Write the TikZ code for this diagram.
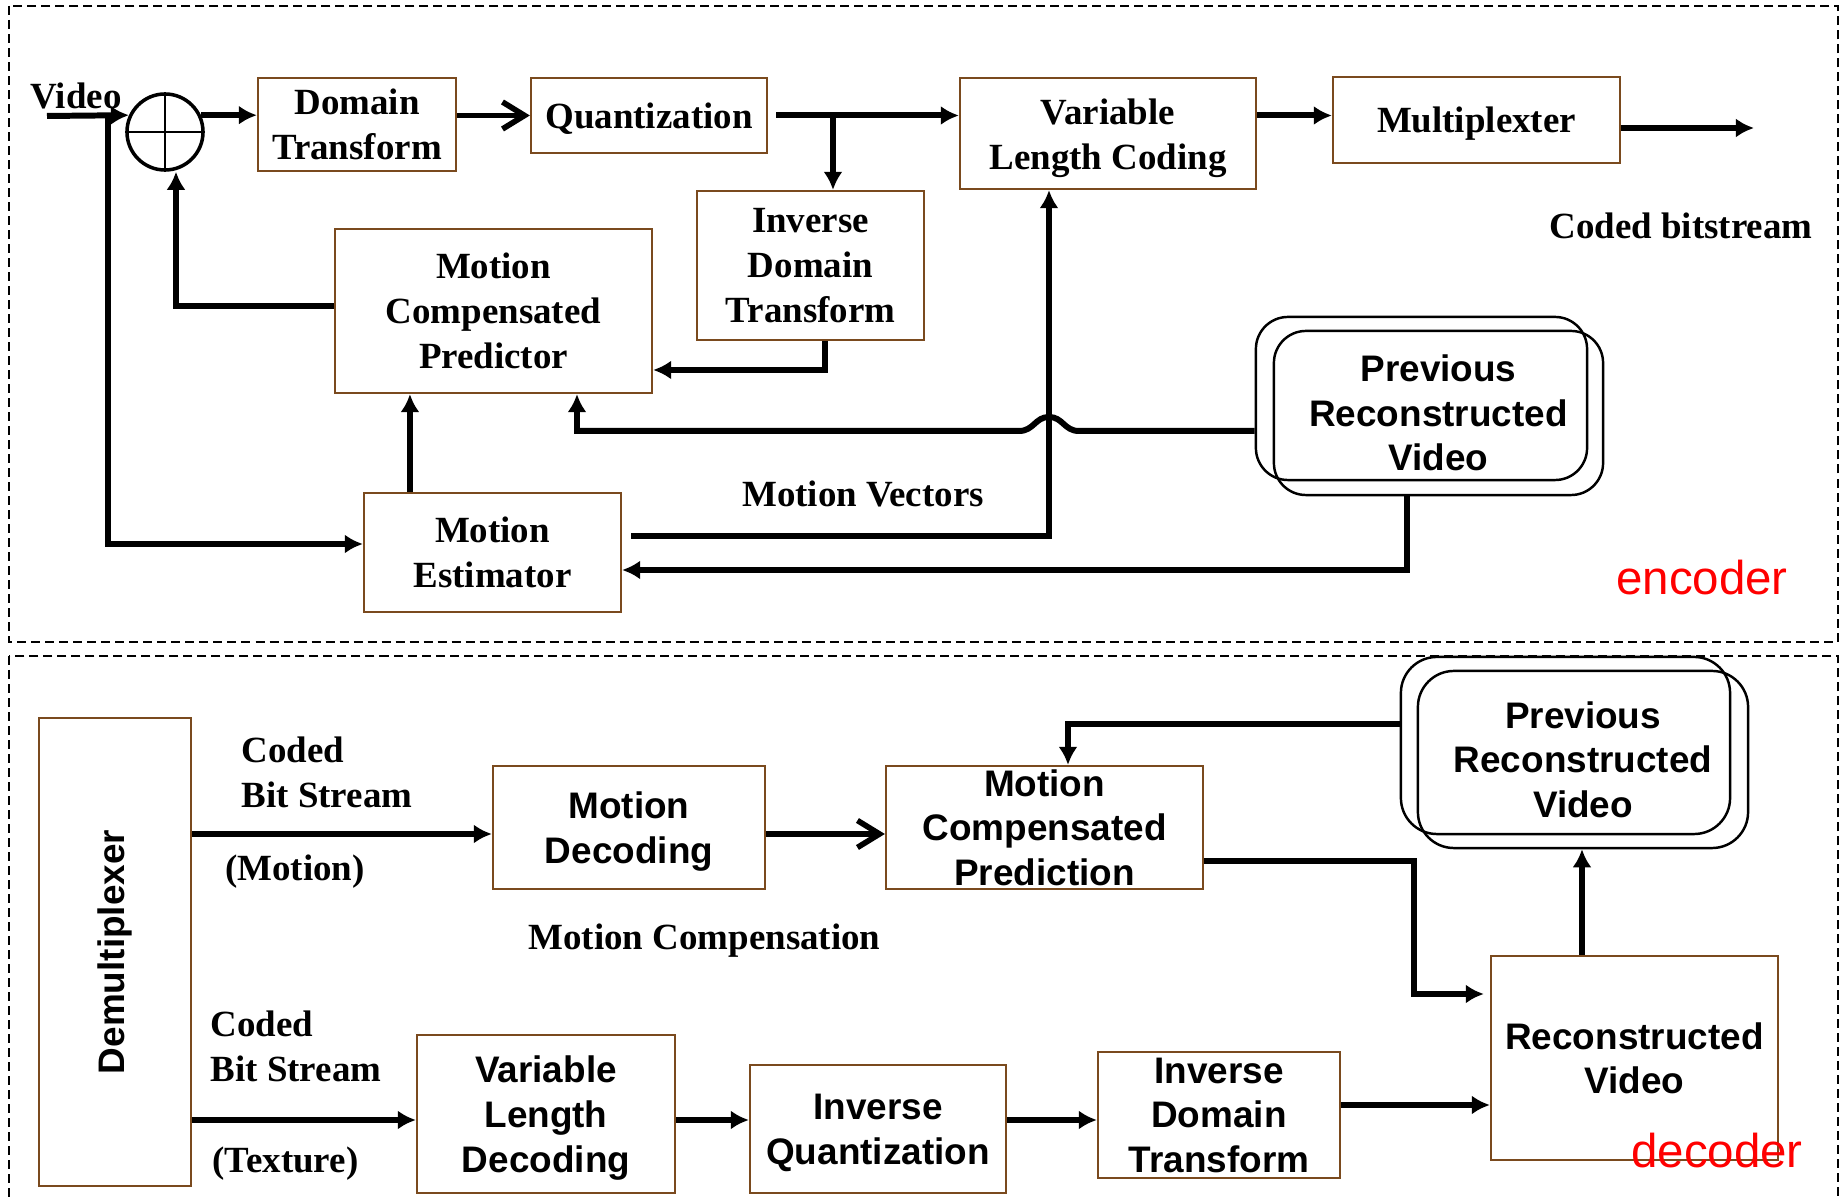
\documentclass[tikz,border=0pt]{standalone}
\usepackage{fontspec}
\setmainfont{Liberation Serif}
\setsansfont{Liberation Sans}
\usetikzlibrary{arrows.meta}
\definecolor{boxbrown}{RGB}{122,74,30}
\newcommand\serbf{\fontsize{10.5}{12.8}\selectfont\bfseries}
\newcommand\sanbf{\fontsize{10.5}{12.7}\selectfont\sffamily\bfseries}
\newcommand\redtag{\fontsize{13.5}{16}\selectfont\sffamily}
\tikzset{>={Latex[length=0.18cm,width=0.19cm]}}
\tikzset{
  blk/.style={draw=boxbrown, line width=0.6pt, inner sep=0pt, align=center, text depth=0pt, font=\serbf},
  sblk/.style={blk, font=\sanbf},
  rbox/.style={draw, line width=0.7pt, rounded corners=0.32cm, inner sep=0pt, align=center, font=\sanbf},
  conn/.style={line width=1.7pt, ->},
  chev/.style={line width=1.6pt, -{Straight Barb[length=0.22cm,width=0.27cm]}},
  lbl/.style={inner sep=0pt, font=\serbf, align=left},
  dashbox/.style={line width=0.5pt, dash pattern=on 0.09cm off 0.05cm},
}

\begin{document}
\begin{tikzpicture}[x=0.01cm, y=-0.01cm]
    \useasboundingbox (0,0) rectangle (1847,1198);
    \draw[dashbox] (9,6) rectangle (1838,642);
    \draw[dashbox] (9,656) rectangle (1838,1230);

    % encoder
    \node[lbl] (vidlbl) at (76,96) {Video};
    \coordinate (vin) at (47,116);
    \node[circle, draw, line width=1pt, minimum size=0.76cm, inner sep=0pt] (sum) at (165,132) {};
    \draw[line width=0.6pt] (sum.north) -- (sum.south) (sum.west) -- (sum.east);
    \node[blk, minimum width=1.98cm, minimum height=0.93cm] (dt) at (357,124.5) {Domain\\Transform};
    \node[blk, minimum width=2.36cm, minimum height=0.75cm] (q) at (649,115.5) {Quantization};
    \node[blk, minimum width=2.96cm, minimum height=1.11cm] (vlc) at (1108,133.5) {};
    \node[font=\serbf, align=center, inner sep=0pt] (vlctxt) at ([yshift=-0.05cm]vlc.center) {Variable\\Length Coding};
    \node[blk, minimum width=2.87cm, minimum height=0.86cm] (mux) at (1476.5,120) {Multiplexter};
    \node[blk, minimum width=2.27cm, minimum height=1.49cm] (idt) at (810.5,265.5) {Inverse\\Domain\\Transform};
    \node[blk, minimum width=3.17cm, minimum height=1.64cm] (mcp) at (493.5,311) {Motion\\Compensated\\Predictor};
    \node[blk, minimum width=2.57cm, minimum height=1.19cm] (me) at (492.5,552.5) {Motion\\Estimator};
    \node[rbox, minimum width=3.31cm, minimum height=1.63cm] (prvb) at (1421.5,398.5) {};
    \node[rbox, minimum width=3.29cm, minimum height=1.64cm] (prv) at (1438.5,413) {Previous\\Reconstructed\\Video};
    \node[lbl] (cbs) at (1681,226) {Coded bitstream};
    \node[lbl] (mvlbl) at (863,494) {Motion Vectors};
    \node[font=\redtag, text=red, inner sep=0pt] (enctag) at (1702,578) {encoder};

    \coordinate (br) at (833,116);
    \coordinate (j1) at (825,370);
    \coordinate (j2) at (176,306);
    \coordinate (j3) at (108,544);
    \coordinate (j5) at (577,431);
    \coordinate (j6) at (1049,536);
    \coordinate (j7) at (1407,570);
    \coordinate (hop) at (j6 |- j5);
    \coordinate (bsout) at (1754,128);

    \draw[conn] (vin) -- (sum.155);
    \draw[conn] (sum.25) -- (sum.25 -| dt.west);
    \draw[chev] (q.west -| dt.east) -- (q.west);
    \draw[conn] ([xshift=0.08cm]q.east) -- (q.east -| vlc.west);
    \draw[conn] (br) -- (br |- idt.north);
    \draw[conn] (q.west -| vlc.east) -- (q.west -| mux.west);
    \draw[conn] (mux.east |- bsout) -- (bsout);
    \draw[conn] (idt.south -| j1) -- (j1) -- (j1 -| mcp.east);
    \draw[conn] (mcp.west |- j2) -- (j2) -- (sum.south -| j2);
    \draw[conn] (j3 |- vin) -- (j3) -- (j3 -| me.west);
    \draw[conn] ([xshift=-0.825cm]me.north) -- ([xshift=-0.825cm]me.north |- mcp.south);
    \draw[conn] ([xshift=0.09cm]me.east |- j6) -- (j6) -- (j6 |- vlc.south);
    \draw[conn] (prvb.west |- j5) -- ([xshift=0.3cm]hop)
        .. controls +(-15,0) and +(14,0) .. ([yshift=0.14cm]hop)
        .. controls +(-14,0) and +(15,0) .. ([xshift=-0.3cm]hop) -- (j5) -- (j5 |- mcp.south);
    \draw[conn] (j7 |- prv.south) -- (j7) -- (j7 -| me.east);

    % decoder
    \node[sblk, minimum width=1.52cm, minimum height=4.68cm] (demux) at (115,952) {};
    \node[font=\sanbf, rotate=90, inner sep=0pt] (demuxtxt) at (demux.center) {Demultiplexer};
    \node[sblk, minimum width=2.72cm, minimum height=1.23cm] (md) at (629,827.5) {Motion\\Decoding};
    \node[sblk, minimum width=3.17cm, minimum height=1.23cm] (mcpd) at (1044.5,827.5) {Motion\\Compensated\\Prediction};
    \node[sblk, minimum width=2.58cm, minimum height=1.58cm] (vld) at (546,1114) {Variable\\Length\\Decoding};
    \node[sblk, minimum width=2.56cm, minimum height=1.28cm] (iq) at (878,1129) {Inverse\\Quantization};
    \node[sblk, minimum width=2.42cm, minimum height=1.26cm] (idtd) at (1219,1115) {Inverse\\Domain\\Transform};
    \node[sblk, minimum width=2.87cm, minimum height=2.04cm] (rv) at (1634.5,1058) {Reconstructed\\Video};
    \node[rbox, minimum width=3.29cm, minimum height=1.77cm, rounded corners=0.36cm] (prvdb) at (1565.5,745.5) {};
    \node[rbox, minimum width=3.30cm, minimum height=1.77cm, rounded corners=0.36cm] (prvd) at (1583,759.5) {Previous\\Reconstructed\\Video};
    \node[lbl, anchor=west] (cbsm) at (241,772) {Coded\\Bit Stream};
    \node[lbl] (motlbl) at (295,872) {(Motion)};
    \node[lbl] (mclbl) at (704.5,941) {Motion Compensation};
    \node[lbl, anchor=west] (cbst) at (210,1046) {Coded\\Bit Stream};
    \node[lbl] (texlbl) at (285.5,1164) {(Texture)};
    \node[font=\redtag, text=red, inner sep=0pt] (dectag) at (1717,1151) {decoder};

    \coordinate (mrow) at (300,834);
    \coordinate (trow) at (300,1120);
    \coordinate (rrow) at (1400,1105);
    \coordinate (j9) at (1582,900);
    \coordinate (j10) at (1068,724);
    \coordinate (j11) at (1414,861);
    \coordinate (j12) at (1414,994);

    \draw[conn] (demux.east |- mrow) -- (md.west |- mrow);
    \draw[chev] (md.east |- mrow) -- (mcpd.west |- mrow);
    \draw[conn] (demux.east |- trow) -- (vld.west |- trow);
    \draw[conn] (vld.east |- trow) -- (iq.west |- trow);
    \draw[conn] (iq.east |- trow) -- (idtd.west |- trow);
    \draw[conn] (idtd.east |- rrow) -- (rv.west |- rrow);
    \draw[conn] (rv.north -| j9) -- (j9 |- prvd.south);
    \draw[conn] (prvdb.west |- j10) -- (j10) -- (j10 |- mcpd.north);
    \draw[conn] (mcpd.east |- j11) -- (j11) -- (j12) -- ([xshift=-0.06cm]j12 -| rv.west);
\end{tikzpicture}
\end{document}
